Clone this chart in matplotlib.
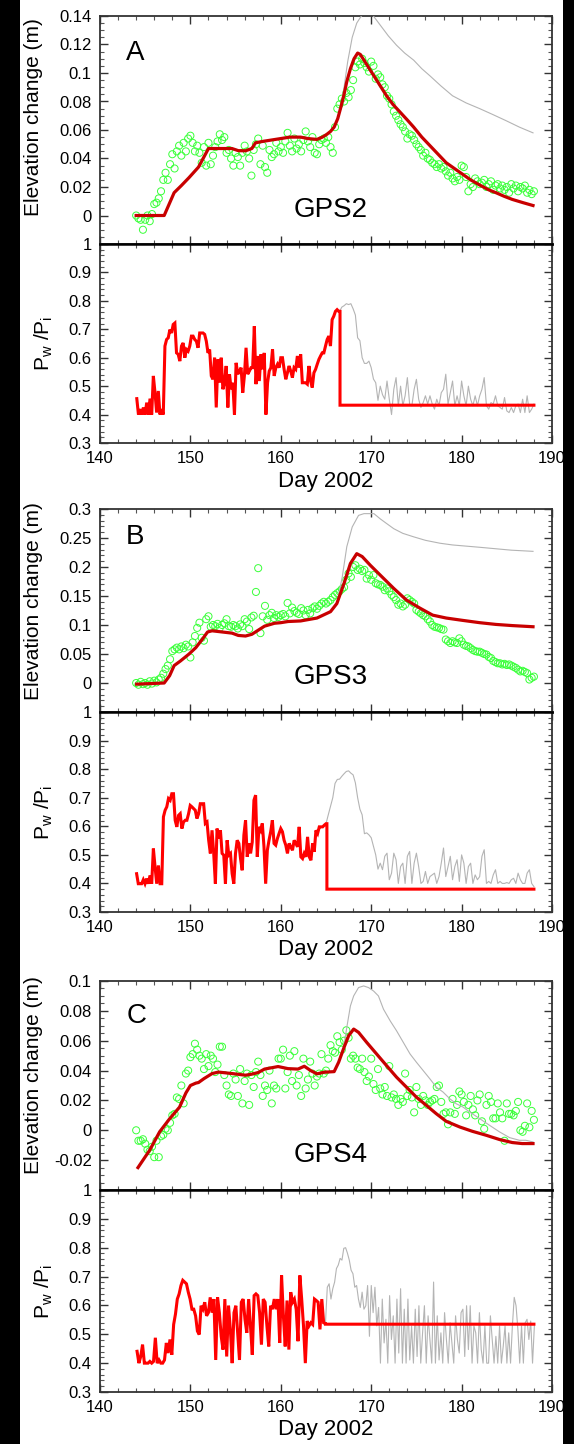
import numpy as np
import matplotlib.pyplot as plt
from matplotlib.ticker import MultipleLocator, FuncFormatter
from matplotlib.patches import Rectangle

plt.rcParams['font.family'] = ['Liberation Sans', 'DejaVu Sans']
plt.rcParams['mathtext.fontset'] = 'custom'
plt.rcParams['mathtext.rm'] = 'Liberation Sans'
plt.rcParams['mathtext.it'] = 'Liberation Sans:italic'

# ---------------- GPS2 (A) ----------------
# observed elevation change, one value every 0.25 day from day 144
gps2_obs = [
    0.000, -0.002, -0.003, -0.010,
    -0.003, 0.000, -0.004, 0.001,
    0.008, 0.009, 0.012, 0.017,
    0.025, 0.030, 0.025, 0.036,
    0.043, 0.033, 0.045, 0.049,
    0.042, 0.051, 0.045, 0.054,
    0.056, 0.051, 0.045, 0.049,
    0.044, 0.037, 0.048, 0.035,
    0.051, 0.036, 0.042, 0.048,
    0.052, 0.057, 0.053, 0.055,
    0.044, 0.046, 0.040, 0.035,
    0.044, 0.041, 0.035, 0.044,
    0.049, 0.045, 0.040, 0.028,
    0.046, 0.050, 0.054, 0.036,
    0.049, 0.034, 0.030, 0.046,
    0.041, 0.043, 0.051, 0.045,
    0.048, 0.044, 0.052, 0.058,
    0.049, 0.045, 0.054, 0.047,
    0.050, 0.045, 0.053, 0.059,
    0.052, 0.048, 0.055, 0.044,
    0.043, 0.050, 0.053, 0.054,
    0.051, 0.055, 0.048, 0.044,
    0.062, 0.075, 0.078, 0.082,
    0.080, 0.086, 0.083, 0.088,
    0.095, 0.104, 0.108, 0.106,
    0.110, 0.107, 0.104, 0.101,
    0.108, 0.105, 0.096, 0.099,
    0.097, 0.092, 0.090, 0.084,
    0.082, 0.078, 0.073, 0.070,
    0.067, 0.064, 0.062, 0.059,
    0.054, 0.057, 0.056, 0.053,
    0.050, 0.048, 0.046, 0.042,
    0.044, 0.040, 0.039, 0.037,
    0.036, 0.034, 0.036, 0.033,
    0.034, 0.031, 0.028, 0.030,
    0.026, 0.024, 0.027, 0.025,
    0.035, 0.034, 0.027, 0.017,
    0.022, 0.020, 0.026, 0.024,
    0.022, 0.023, 0.025, 0.020,
    0.022, 0.024, 0.018, 0.021,
    0.022, 0.019, 0.021, 0.018,
    0.020, 0.016, 0.022, 0.019,
    0.021, 0.017, 0.020, 0.019,
    0.021, 0.016, 0.018, 0.015,
    0.017]
gps2_model_days = [144.0, 147.1, 148.2, 149.0, 149.85, 150.9, 152.0, 153.0, 154.6, 155.3,
                   156.1, 156.8, 157.2, 158.0, 159.0, 160.0, 161.0, 162.2, 163.0, 164.0,
                   164.6, 165.1, 165.5, 165.9, 166.3, 166.6, 167.0, 167.3, 167.7, 168.1,
                   168.5, 168.8, 169.2, 169.7, 170.3, 171.0, 171.7, 172.4, 173.2, 174.0,
                   174.7, 175.6, 176.5, 177.4, 178.3, 179.2, 180.1, 181.0, 182.0, 183.0,
                   183.8, 184.7, 185.6, 186.8, 187.9]
gps2_model = [0.000, 0.000, 0.016, 0.021, 0.0266, 0.034, 0.047, 0.047, 0.047, 0.0455,
              0.0454, 0.047, 0.051, 0.052, 0.053, 0.054, 0.055, 0.055, 0.054, 0.0534,
              0.055, 0.057, 0.059, 0.062, 0.068, 0.075, 0.085, 0.094, 0.103, 0.110,
              0.114, 0.113, 0.109, 0.104, 0.098, 0.091, 0.084, 0.078, 0.0725, 0.067,
              0.062, 0.055, 0.049, 0.043, 0.037, 0.033, 0.029, 0.025, 0.0214, 0.018,
              0.016, 0.0135, 0.0113, 0.009, 0.007]
gps2_full_days = [166.6, 167.0, 167.4, 167.9, 168.4, 168.8, 169.2, 170.0, 170.6, 171.0,
                  171.9, 172.8, 173.7, 174.7, 175.6, 176.5, 177.7, 179.0, 180.5, 182.0,
                  183.4, 184.9, 186.4, 187.9]
gps2_full = [0.075, 0.090, 0.108, 0.125, 0.135, 0.139, 0.142, 0.142, 0.137, 0.1336,
             0.126, 0.1195, 0.114, 0.109, 0.103, 0.098, 0.091, 0.084, 0.079, 0.075,
             0.071, 0.0666, 0.062, 0.058]
# Pw/Pi, evenly sampled between day 144.07 and 166.41
gps2_ratio = [
    0.456, 0.400, 0.419, 0.400, 0.425, 0.400, 0.442, 0.400, 0.456, 0.400,
    0.536, 0.477, 0.407, 0.483, 0.400, 0.419, 0.400, 0.641,
    0.664, 0.670, 0.699, 0.687, 0.717, 0.722, 0.617, 0.612, 0.588, 0.641,
    0.652, 0.600, 0.629, 0.623, 0.641, 0.676, 0.676, 0.664, 0.658, 0.635,
    0.687, 0.687, 0.687, 0.682, 0.658, 0.617, 0.629, 0.536, 0.524, 0.600,
    0.425, 0.594, 0.512, 0.600, 0.489, 0.512, 0.571, 0.425, 0.542, 0.489,
    0.512, 0.400, 0.582, 0.542, 0.553, 0.565, 0.477, 0.536, 0.635, 0.542,
    0.553, 0.565, 0.565, 0.711, 0.507, 0.606, 0.518, 0.612, 0.559, 0.617,
    0.400, 0.512, 0.553, 0.565, 0.629, 0.536, 0.565, 0.577, 0.565, 0.600,
    0.600, 0.559, 0.524, 0.547, 0.571, 0.553, 0.530, 0.565, 0.559, 0.606,
    0.565, 0.612, 0.512, 0.512, 0.512, 0.507, 0.571, 0.518, 0.495, 0.547,
    0.559, 0.577, 0.594, 0.606, 0.617, 0.617, 0.641, 0.664, 0.676, 0.641,
    0.734, 0.746, 0.763, 0.769, 0.763]
gps2_ratio_span = (144.07, 166.41)
gps2_cut, gps2_floor = 166.55, 0.433
# Pw/Pi without the cut, every 0.25 day from 166.5
gps2_free = [
    0.763, 0.778, 0.783, 0.790, 0.787, 0.790, 0.772, 0.750, 0.670, 0.660,
    0.600, 0.580, 0.580, 0.588, 0.565, 0.525, 0.512, 0.450,
    0.500, 0.470, 0.454, 0.518, 0.454, 0.400, 0.489, 0.530, 0.431, 0.500,
    0.431, 0.466, 0.530, 0.437, 0.431, 0.489, 0.524, 0.454, 0.425, 0.442,
    0.466, 0.437, 0.466, 0.437, 0.419, 0.454, 0.431, 0.477, 0.489, 0.542,
    0.437, 0.477, 0.518, 0.431, 0.466, 0.431, 0.518, 0.466, 0.431, 0.500,
    0.454, 0.431, 0.466, 0.431, 0.466, 0.489, 0.530, 0.431, 0.419, 0.442,
    0.437, 0.466, 0.431, 0.425, 0.419, 0.460, 0.413, 0.407, 0.425, 0.407,
    0.431, 0.437, 0.407, 0.454, 0.407, 0.466, 0.407, 0.419, 0.437]
gps2_free_start = 166.5

# ---------------- GPS3 (B) ----------------
gps3_obs = [
    0.000, -0.003, 0.002, -0.002,
    0.000, -0.003, 0.003, -0.001,
    0.004, 0.001, 0.006, 0.009,
    0.016, 0.024, 0.030, 0.041,
    0.055, 0.058, 0.061, 0.058,
    0.063, 0.060, 0.066, 0.063,
    0.044, 0.070, 0.081, 0.095,
    0.104, 0.078, 0.073, 0.110,
    0.115, 0.097, 0.100, 0.098,
    0.102, 0.095, 0.100, 0.103,
    0.110, 0.098, 0.097, 0.100,
    0.098, 0.094, 0.101, 0.098,
    0.110, 0.106, 0.093, 0.113,
    0.116, 0.157, 0.198, 0.086,
    0.115, 0.133, 0.109, 0.117,
    0.121, 0.112, 0.117, 0.114,
    0.117, 0.119, 0.115, 0.138,
    0.120, 0.130, 0.124, 0.121,
    0.119, 0.129, 0.125, 0.117,
    0.126, 0.120, 0.129, 0.132,
    0.128, 0.133, 0.137, 0.140,
    0.137, 0.140, 0.143, 0.148,
    0.152, 0.155, 0.158, 0.162,
    0.165, 0.178, 0.189, 0.183,
    0.200, 0.203, 0.195, 0.197,
    0.193, 0.195, 0.180, 0.186,
    0.178, 0.186, 0.172, 0.170,
    0.169, 0.166, 0.160, 0.163,
    0.158, 0.152, 0.148, 0.143,
    0.135, 0.137, 0.132, 0.135,
    0.146, 0.143, 0.140, 0.137,
    0.126, 0.123, 0.120, 0.117,
    0.115, 0.110, 0.106, 0.100,
    0.097, 0.096, 0.095, 0.093,
    0.092, 0.075, 0.072, 0.069,
    0.072, 0.070, 0.069, 0.077,
    0.072, 0.066, 0.064, 0.063,
    0.060, 0.057, 0.055, 0.054,
    0.054, 0.052, 0.050, 0.049,
    0.045, 0.043, 0.038, 0.036,
    0.034, 0.034, 0.032, 0.033,
    0.031, 0.032, 0.030, 0.028,
    0.026, 0.023, 0.020, 0.021,
    0.019, 0.017, 0.006, 0.009,
    0.011]
gps3_model_days = [144.05, 147.1, 147.7, 148.2, 148.9, 149.85, 150.6, 151.3, 151.9, 152.4,
                   153.5, 154.6, 155.3, 156.1, 156.8, 157.5, 158.2, 159.3, 160.0, 160.8,
                   162.2, 164.0, 165.5, 166.2, 167.0, 167.7, 168.4, 169.0, 169.9, 171.0,
                   172.5, 173.9, 175.4, 176.8, 178.3, 180.1, 182.0, 183.8, 185.6, 187.9]
gps3_model = [-0.002, 0.000, 0.0126, 0.030, 0.038, 0.050, 0.061, 0.075, 0.088, 0.090,
              0.088, 0.086, 0.082, 0.081, 0.084, 0.091, 0.098, 0.103, 0.104, 0.106,
              0.107, 0.112, 0.123, 0.137, 0.172, 0.206, 0.223, 0.218, 0.203, 0.186,
              0.163, 0.143, 0.129, 0.117, 0.112, 0.108, 0.104, 0.101, 0.099, 0.097]
gps3_full_days = [166.2, 166.8, 167.3, 167.9, 168.6, 169.2, 170.3, 171.0, 171.7, 172.5,
                  173.5, 174.7, 176.0, 177.6, 179.0, 180.5, 182.0, 183.4, 185.5, 187.9]
gps3_full = [0.137, 0.183, 0.235, 0.269, 0.289, 0.292, 0.292, 0.283, 0.275, 0.266,
             0.258, 0.252, 0.246, 0.241, 0.238, 0.236, 0.234, 0.232, 0.229, 0.227]
gps3_ratio = [
    0.434, 0.399, 0.399, 0.399, 0.413, 0.399, 0.417, 0.399, 0.428, 0.399,
    0.522, 0.458, 0.399, 0.463, 0.399, 0.399,
    0.633, 0.656, 0.668, 0.697, 0.691, 0.714, 0.714, 0.621, 0.598, 0.638,
    0.644, 0.592, 0.615, 0.621, 0.621, 0.644, 0.673, 0.668, 0.662, 0.656,
    0.627, 0.644, 0.679, 0.679, 0.679, 0.610, 0.615, 0.551, 0.505, 0.586,
    0.505, 0.399, 0.592, 0.557, 0.586, 0.505, 0.499, 0.399, 0.551, 0.499,
    0.505, 0.434, 0.399, 0.505, 0.551, 0.540, 0.487, 0.446, 0.569, 0.621,
    0.493, 0.540, 0.505, 0.545, 0.691, 0.709, 0.493, 0.598, 0.586, 0.610,
    0.528, 0.399, 0.516, 0.551, 0.581, 0.621, 0.540, 0.534, 0.557, 0.575,
    0.592, 0.581, 0.551, 0.534, 0.505, 0.540, 0.528, 0.516, 0.551, 0.540,
    0.528, 0.598, 0.493, 0.487, 0.505, 0.493, 0.563, 0.493, 0.481, 0.540,
    0.511, 0.586, 0.575, 0.598, 0.598, 0.598, 0.604, 0.609]
gps3_ratio_span = (144.05, 165.0)
gps3_cut, gps3_floor = 165.1, 0.380
gps3_free = [
    0.609, 0.640, 0.670, 0.700, 0.750, 0.764, 0.765, 0.775, 0.784, 0.792,
    0.794, 0.786, 0.780, 0.752, 0.700, 0.660, 0.640, 0.574, 0.577, 0.570,
    0.560, 0.530, 0.500, 0.450,
    0.471, 0.448, 0.495, 0.506, 0.413, 0.436, 0.506, 0.483, 0.400, 0.459,
    0.471, 0.400, 0.495, 0.512, 0.400, 0.471, 0.506, 0.459, 0.400, 0.407,
    0.442, 0.400, 0.424, 0.430, 0.436, 0.400, 0.424, 0.471, 0.524, 0.424,
    0.459, 0.495, 0.413, 0.459, 0.483, 0.407, 0.500, 0.471, 0.400, 0.459,
    0.471, 0.400, 0.430, 0.413, 0.424, 0.495, 0.518, 0.400, 0.407, 0.400,
    0.430, 0.448, 0.400, 0.407, 0.400, 0.400, 0.403, 0.400, 0.413, 0.418,
    0.400, 0.436, 0.413, 0.400, 0.400, 0.436, 0.448, 0.400, 0.389]
gps3_free_start = 165.0

# ---------------- GPS4 (C) ----------------
gps4_obs = [
    0.000, -0.007, -0.007, -0.006,
    -0.009, -0.013, -0.014, -0.011,
    -0.018, -0.007, -0.018, -0.004,
    -0.003, 0.001, 0.000, 0.005,
    0.010, 0.011, 0.022, 0.021,
    0.030, 0.018, 0.038, 0.040,
    0.049, 0.051, 0.058, 0.054,
    0.050, 0.048, 0.041, 0.051,
    0.043, 0.050, 0.048, 0.039,
    0.044, 0.056, 0.056, 0.037,
    0.030, 0.024, 0.023, 0.038,
    0.034, 0.023, 0.041, 0.018,
    0.033, 0.038, 0.017, 0.037,
    0.029, 0.039, 0.046, 0.037,
    0.023, 0.030, 0.027, 0.040,
    0.018, 0.030, 0.028, 0.048,
    0.048, 0.054, 0.028, 0.039,
    0.050, 0.033, 0.053, 0.030,
    0.037, 0.023, 0.048, 0.028,
    0.034, 0.046, 0.038, 0.030,
    0.036, 0.038, 0.051, 0.038,
    0.040, 0.048, 0.057, 0.053,
    0.052, 0.063, 0.059, 0.054,
    0.060, 0.067, 0.062, 0.048,
    0.050, 0.048, 0.042, 0.041,
    0.048, 0.039, 0.033, 0.036,
    0.048, 0.031, 0.027, 0.041,
    0.028, 0.024, 0.029, 0.023,
    0.043, 0.022, 0.024, 0.021,
    0.017, 0.021, 0.019, 0.038,
    0.023, 0.027, 0.022, 0.012,
    0.029, 0.021, 0.017, 0.023,
    0.020, 0.017, 0.019, 0.020,
    0.021, 0.029, 0.030, 0.019,
    0.011, 0.012, 0.004, 0.012,
    0.021, 0.011, 0.017, 0.026,
    0.024, 0.019, 0.010, 0.017,
    0.023, 0.014, 0.010, 0.020,
    0.024, 0.006, 0.001, 0.017,
    0.023, 0.019, 0.008, 0.008,
    0.018, 0.012, 0.008, -0.007,
    0.018, 0.011, 0.011, 0.010,
    0.013, 0.019, 0.000, -0.001,
    0.003, 0.018, 0.002, 0.013,
    0.007]
gps4_model_days = [144.2, 145.5, 146.6, 147.7, 148.8, 149.5, 150.0, 150.6, 150.9, 151.5,
                   152.4, 153.1, 154.6, 156.1, 156.8, 157.5, 158.2, 159.7, 160.8, 161.9,
                   162.6, 163.3, 164.0, 164.8, 165.9, 166.4, 167.0, 167.5, 168.06, 168.6,
                   169.5, 170.6, 171.7, 172.8, 173.9, 175.0, 176.1, 177.2, 178.3, 179.8,
                   181.2, 182.7, 184.2, 185.6, 186.7, 187.9]
gps4_model = [-0.025, -0.0133, -0.001, 0.0077, 0.0155, 0.025, 0.030, 0.0316, 0.032, 0.0346,
              0.038, 0.039, 0.038, 0.0369, 0.0376, 0.0387, 0.041, 0.0427, 0.0413, 0.041,
              0.0429, 0.040, 0.0378, 0.0389, 0.0393, 0.0456, 0.0556, 0.0633, 0.0678, 0.0656,
              0.0589, 0.0511, 0.0433, 0.0356, 0.0289, 0.0222, 0.0167, 0.0111, 0.006, 0.0022,
              -0.0007, -0.0033, -0.0062, -0.0082, -0.0089, -0.0089]
gps4_full_days = [166.96, 167.33, 167.7, 168.06, 168.6, 169.16, 169.7, 170.26, 170.8, 171.36,
                  172.1, 172.8, 173.55, 174.3, 175.0, 175.75, 176.5, 177.2, 177.95, 178.7,
                  179.4, 180.15, 180.9, 182.0, 183.1, 184.2, 185.3, 186.4, 187.1, 187.9]
gps4_full = [0.0556, 0.070, 0.0833, 0.090, 0.0956, 0.0967, 0.0956, 0.0933, 0.090, 0.0811,
             0.0733, 0.0667, 0.0589, 0.0511, 0.0456, 0.040, 0.0344, 0.0289, 0.0256, 0.0211,
             0.0178, 0.0156, 0.0122, 0.0078, 0.0033, -0.0011, -0.0049, -0.0067, -0.0067, -0.0078]
gps4_ratio = [
    0.441, 0.400, 0.423, 0.464, 0.400, 0.400, 0.400, 0.406, 0.400, 0.406,
    0.488, 0.400, 0.411, 0.400, 0.400, 0.411, 0.470, 0.435, 0.482, 0.429,
    0.534, 0.570, 0.622, 0.640, 0.669, 0.687, 0.681, 0.675, 0.646, 0.622,
    0.587, 0.587, 0.564, 0.511, 0.499, 0.599, 0.587, 0.611, 0.564, 0.575,
    0.628, 0.575, 0.622, 0.411, 0.628, 0.575, 0.493, 0.447, 0.622, 0.423,
    0.599, 0.517, 0.400, 0.575, 0.599, 0.505, 0.411, 0.611, 0.622, 0.552,
    0.505, 0.622, 0.529, 0.429, 0.634, 0.640, 0.634, 0.575, 0.464, 0.622,
    0.611, 0.529, 0.458, 0.599, 0.587, 0.622, 0.587, 0.622, 0.470, 0.704,
    0.564, 0.458, 0.617, 0.447, 0.646, 0.611, 0.622, 0.587, 0.476, 0.704,
    0.622, 0.529, 0.400, 0.546, 0.529, 0.540, 0.534, 0.622, 0.617, 0.611,
    0.517, 0.622, 0.540, 0.537]
gps4_ratio_span = (144.1, 164.94)
gps4_cut, gps4_floor = 164.94, 0.535
gps4_free = [
    0.537, 0.663, 0.675, 0.622, 0.658, 0.681, 0.728, 0.740, 0.763, 0.757,
    0.798, 0.800, 0.781, 0.757, 0.722, 0.710, 0.663, 0.669, 0.622, 0.593,
    0.646, 0.587, 0.599, 0.669, 0.493, 0.669, 0.575, 0.663, 0.529, 0.593,
    0.400, 0.622, 0.470, 0.552, 0.400, 0.634, 0.482, 0.564, 0.400, 0.622,
    0.435, 0.658, 0.400, 0.587, 0.400, 0.622, 0.411, 0.529, 0.400, 0.587,
    0.423, 0.599, 0.400, 0.505, 0.599, 0.400, 0.564, 0.482, 0.400, 0.681,
    0.400, 0.564, 0.411, 0.505, 0.400, 0.575, 0.482, 0.400, 0.540, 0.470,
    0.400, 0.564, 0.482, 0.435, 0.575, 0.587, 0.423, 0.599, 0.447, 0.599,
    0.400, 0.529, 0.505, 0.400, 0.575, 0.447, 0.400, 0.529, 0.400, 0.400,
    0.564, 0.482, 0.400, 0.493, 0.400, 0.529, 0.400, 0.458, 0.529, 0.400,
    0.505, 0.400, 0.529, 0.628, 0.599, 0.517, 0.400, 0.529, 0.400, 0.540,
    0.552, 0.482, 0.546, 0.400, 0.529]
gps4_free_span = (164.94, 188.05)

OBS_START, OBS_STEP = 144.0, 0.25
END_DAY = 188.0

W, H = 574, 1444
fig = plt.figure(figsize=(W / 100, H / 100), dpi=100)

GREEN = '#39ff39'
DARK_RED = '#c80000'
RED = '#ff0000'
GREY = '#b4b4b4'

fmt = FuncFormatter(lambda v, p: '%g' % round(v, 4) if abs(v) > 1e-9 else '0')


def px_rect(top, bottom, left=100, right=552):
    return [left / W, 1 - bottom / H, (right - left) / W, (bottom - top) / H]


def common(ax):
    ax.set_xlim(140, 190)
    ax.xaxis.set_major_locator(MultipleLocator(10))
    ax.xaxis.set_minor_locator(MultipleLocator(2))
    ax.tick_params(which='both', direction='in', top=True, right=True,
                   labelsize=12, pad=6, colors='black')
    ax.tick_params(which='major', length=5.5, width=1.0, color='#333333')
    ax.tick_params(which='minor', length=3, width=0.8, color='#555555')
    for s in ax.spines.values():
        s.set_color('#333333')
        s.set_linewidth(1.3)
    ax.yaxis.set_major_formatter(fmt)


def panel(top_px, mid_px, bot_px, letter, name, ylim, yticks, ymin_step,
          obs, mdays, model, fdays, full, ratio, rspan, cut, floor, free, fspan,
          lab_y, letter_y, name_y):
    ax = fig.add_axes(px_rect(top_px, mid_px))
    common(ax)
    days = OBS_START + OBS_STEP * np.arange(len(obs))
    ax.scatter(days, obs, s=26, facecolors='none', edgecolors=GREEN, linewidths=0.7, zorder=2)
    ax.plot(fdays, full, color=GREY, lw=0.8, zorder=3)
    ax.plot(mdays, model, color=DARK_RED, lw=2.3, zorder=4)
    ax.set_ylim(*ylim)
    ax.set_yticks(yticks)
    ax.yaxis.set_minor_locator(MultipleLocator(ymin_step))
    ax.tick_params(axis='x', labelbottom=False)
    ax.spines['bottom'].set_color('black')
    ax.spines['bottom'].set_linewidth(1.8)
    ax.set_ylabel('Elevation change (m)', fontsize=15)
    ax.yaxis.set_label_coords(-0.126, lab_y)
    ax.text(0.058, letter_y, letter, transform=ax.transAxes, fontsize=20,
            ha='left', va='center')
    ax.text(0.511, name_y, name, transform=ax.transAxes, fontsize=20,
            ha='center', va='center')

    bx = fig.add_axes(px_rect(mid_px, bot_px))
    common(bx)
    fd = np.linspace(fspan[0], fspan[1], len(free))
    bx.plot(fd, free, color=GREY, lw=0.8, zorder=3)
    rd = np.linspace(rspan[0], rspan[1], len(ratio))
    rx = list(rd) + [cut, cut, END_DAY]
    ry = list(ratio) + [ratio[-1], floor, floor]
    bx.plot(rx, ry, color=RED, lw=2.2, zorder=4, solid_joinstyle='miter')
    bx.set_ylim(0.3, 1.0)
    bx.set_yticks(np.arange(0.3, 1.001, 0.1))
    bx.yaxis.set_minor_locator(MultipleLocator(0.02))
    bx.spines['top'].set_color('black')
    bx.spines['top'].set_linewidth(1.8)
    bx.set_ylabel(r'P$_{\rm w}$ /P$_{\rm i}$', fontsize=15)
    bx.yaxis.set_label_coords(-0.10, 0.5)
    bx.set_xlabel('Day 2002', fontsize=16, labelpad=3)
    return ax, bx


panel(16, 244, 443, 'A', 'GPS2', (-0.02, 0.14), np.arange(0, 0.1401, 0.02), 0.005,
      gps2_obs, gps2_model_days, gps2_model, gps2_full_days, gps2_full,
      gps2_ratio, gps2_ratio_span, gps2_cut, gps2_floor,
      gps2_free, (gps2_free_start, gps2_free_start + OBS_STEP * (len(gps2_free) - 1)),
      0.557, 0.838, 0.149)
panel(509, 712, 912, 'B', 'GPS3', (-0.05, 0.3), np.arange(0, 0.3001, 0.05), 0.01,
      gps3_obs, gps3_model_days, gps3_model, gps3_full_days, gps3_full,
      gps3_ratio, gps3_ratio_span, gps3_cut, gps3_floor,
      gps3_free, (gps3_free_start, gps3_free_start + OBS_STEP * (len(gps3_free) - 1)),
      0.547, 0.862, 0.172)
panel(981, 1190, 1392, 'C', 'GPS4', (-0.04, 0.1), np.arange(-0.02, 0.1001, 0.02), 0.005,
      gps4_obs, gps4_model_days, gps4_model, gps4_full_days, gps4_full,
      gps4_ratio, gps4_ratio_span, gps4_cut, gps4_floor,
      gps4_free, gps4_free_span,
      0.55, 0.833, 0.167)

# black borders of the scanned page
fig.add_artist(Rectangle((0, 0), 20 / W, 1, transform=fig.transFigure,
                         facecolor='black', edgecolor='none'))
fig.add_artist(Rectangle((563 / W, 0), 11 / W, 1, transform=fig.transFigure,
                         facecolor='black', edgecolor='none'))

fig.savefig('out.png', dpi=100)
